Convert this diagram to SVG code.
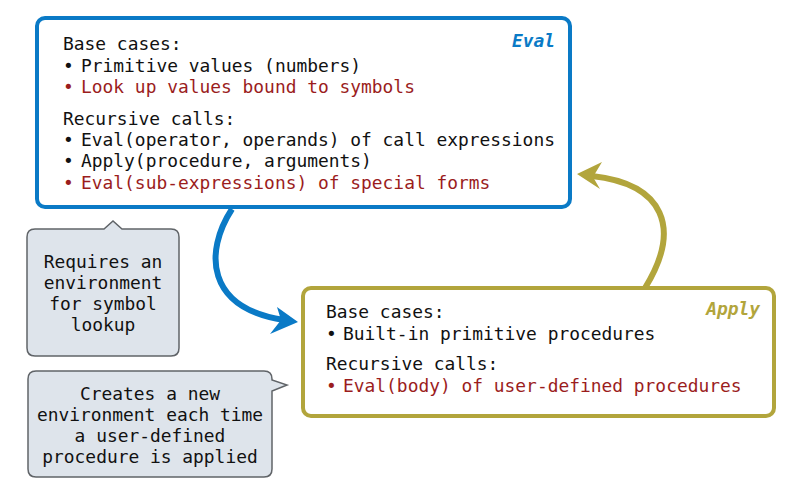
<svg xmlns="http://www.w3.org/2000/svg" width="788" height="484" viewBox="0 0 788 484">
<style>
text{font-family:"DejaVu Sans Mono","Liberation Mono",monospace;font-size:17.9px;fill:#111}
.red{fill:#9b1d1d}
.lbl{font-weight:bold;font-style:italic}
.call{fill:#dee4eb;stroke:#606468;stroke-width:1.5}
.ctr{text-anchor:middle}
</style>
<rect width="788" height="484" fill="#fff"/>
<g id="connectors">
<path d="M232,209 C204,252 206,308 284,320" fill="none" stroke="#0a7ac6" stroke-width="6"/>
<path d="M298,322 L270,334 L281,320 L277,307 Z" fill="#0a7ac6"/>
<path d="M645,288 C682,228 664,184 592,176" fill="none" stroke="#b2a53c" stroke-width="6"/>
<path d="M577,174 L602,162 L593,177 L600,189 Z" fill="#b2a53c"/>
</g>
<g id="eval">
<rect x="37" y="18" width="533" height="189" rx="8" fill="#fff" stroke="#0a7ac6" stroke-width="4"/>
<text x="555" y="47" text-anchor="end" class="lbl" style="fill:#0a7ac6">Eval</text>
<text x="63" y="50">Base cases:</text>
<text x="63" y="72">•</text><text x="81" y="72">Primitive values (numbers)</text>
<text x="63" y="93" class="red">•</text><text x="81" y="93" class="red">Look up values bound to symbols</text>
<text x="63" y="125">Recursive calls:</text>
<text x="63" y="146">•</text><text x="81" y="146">Eval(operator, operands) of call expressions</text>
<text x="63" y="167">•</text><text x="81" y="167">Apply(procedure, arguments)</text>
<text x="63" y="189" class="red">•</text><text x="81" y="189" class="red">Eval(sub-expressions) of special forms</text>
</g>
<g id="apply">
<rect x="303" y="288" width="471" height="128" rx="8" fill="#fff" stroke="#b2a53c" stroke-width="4"/>
<text x="760" y="315" text-anchor="end" class="lbl" style="fill:#b2a53c">Apply</text>
<text x="326" y="318">Base cases:</text>
<text x="326" y="340">•</text><text x="343" y="340">Built-in primitive procedures</text>
<text x="326" y="370">Recursive calls:</text>
<text x="326" y="392" class="red">•</text><text x="343" y="392" class="red">Eval(body) of user-defined procedures</text>
</g>
<g id="note-env">
<path class="call" d="M35,229 L104,229 L113,221 L122,229 L171,229 Q179,229 179,237 L179,348 Q179,356 171,356 L35,356 Q27,356 27,348 L27,237 Q27,229 35,229 Z"/>
<text class="ctr" x="103" y="268">Requires an</text>
<text class="ctr" x="103" y="289">environment</text>
<text class="ctr" x="103" y="310">for symbol</text>
<text class="ctr" x="103" y="331">lookup</text>
</g>
<g id="note-new-env">
<path class="call" d="M36,371 L264,371 Q272,371 272,379 L272,380 L287,385 L272,391 L272,469 Q272,477 264,477 L36,477 Q28,477 28,469 L28,379 Q28,371 36,371 Z"/>
<text class="ctr" x="150" y="400">Creates a new</text>
<text class="ctr" x="150" y="421">environment each time</text>
<text class="ctr" x="150" y="442">a user-defined</text>
<text class="ctr" x="150" y="463">procedure is applied</text>
</g>
</svg>
